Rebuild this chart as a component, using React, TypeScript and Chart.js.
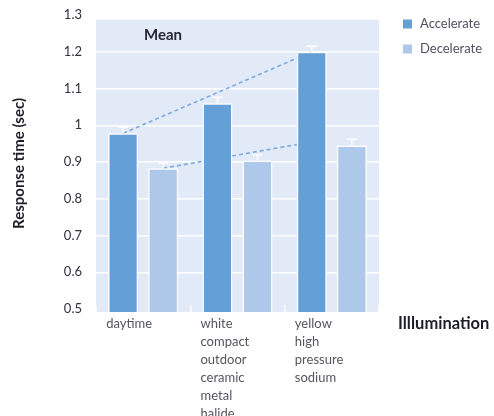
import React, { useEffect, useRef } from 'react';
import { Chart, registerables } from 'chart.js';

Chart.register(...registerables);

const categories: string[][] = [
  ['daytime'],
  ['white', 'compact', 'outdoor', 'ceramic', 'metal', 'halide'],
  ['yellow', 'high', 'pressure', 'sodium'],
];
const seriesNames = ['Accelerate', 'Decelerate'];
const accelerate = [0.978, 1.06, 1.2];
const decelerate = [0.883, 0.904, 0.945];
const accelerateErr = [0.017, 0.016, 0.015];
const decelerateErr = [0.014, 0.016, 0.017];
const yTicks = [0.5, 0.6, 0.7, 0.8, 0.9, 1.0, 1.1, 1.2, 1.3];
const yTickLabels = ['0.5', '0.6', '0.7', '0.8', '0.9', '1', '1.1', '1.2', '1.3'];
const trendAccelerate = [0.978, 1.2];
const trendDecelerate = [0.883, 0.955];
const yMin = 0.492;
const yMax = 1.3;
const plotTopValue = 1.287;

const ACC_COLOR = '#659fd7';
const DEC_COLOR = '#adc8e9';
const BG_COLOR = '#e1eaf6';

const plotBg = {
  id: 'plotBg',
  beforeDraw(chart: any) {
    const { ctx, chartArea } = chart;
    const y = chart.scales.y;
    const top = y.getPixelForValue(plotTopValue);
    ctx.save();
    ctx.fillStyle = BG_COLOR;
    ctx.fillRect(chartArea.left, top, chartArea.right - chartArea.left, chartArea.bottom - top);
    ctx.restore();
  },
};

const trendLines = {
  id: 'trendLines',
  beforeDatasetsDraw(chart: any) {
    const { ctx } = chart;
    const y = chart.scales.y;
    const m0 = chart.getDatasetMeta(0);
    const m1 = chart.getDatasetMeta(1);
    ctx.save();
    ctx.strokeStyle = '#7eaadb';
    ctx.lineWidth = 1.6;
    ctx.setLineDash([4, 3]);
    ctx.beginPath();
    ctx.moveTo(m0.data[0].x, y.getPixelForValue(trendAccelerate[0]));
    ctx.lineTo(m0.data[2].x, y.getPixelForValue(trendAccelerate[1]));
    ctx.moveTo(m1.data[0].x, y.getPixelForValue(trendDecelerate[0]));
    ctx.lineTo(m0.data[2].x, y.getPixelForValue(trendDecelerate[1]));
    ctx.stroke();
    ctx.restore();
  },
};

const errorBars = {
  id: 'errorBars',
  afterDatasetsDraw(chart: any) {
    const { ctx } = chart;
    const y = chart.scales.y;
    const errs = [accelerateErr, decelerateErr];
    ctx.save();
    ctx.strokeStyle = '#ffffff';
    ctx.lineWidth = 1.5;
    chart.data.datasets.forEach((ds: any, di: number) => {
      const meta = chart.getDatasetMeta(di);
      meta.data.forEach((bar: any, i: number) => {
        const top = y.getPixelForValue(ds.data[i] + errs[di][i]);
        ctx.beginPath();
        ctx.moveTo(bar.x, bar.y);
        ctx.lineTo(bar.x, top);
        ctx.moveTo(bar.x - 5, top);
        ctx.lineTo(bar.x + 5, top);
        ctx.stroke();
      });
    });
    ctx.restore();
  },
};

const annotations = {
  id: 'annotations',
  afterDraw(chart: any) {
    const { ctx, chartArea } = chart;
    ctx.save();
    // Mean label
    ctx.fillStyle = '#262636';
    ctx.font = 'bold 15px Lato';
    ctx.textAlign = 'center';
    ctx.textBaseline = 'middle';
    ctx.fillText('Mean', chartArea.left + 67, chartArea.top + 20);
    // Legend
    const colors = [ACC_COLOR, DEC_COLOR];
    ctx.font = '13px Lato';
    ctx.textAlign = 'left';
    seriesNames.forEach((name, i) => {
      const cy = chartArea.top + 9 + i * 25;
      ctx.fillStyle = colors[i];
      ctx.fillRect(chartArea.right + 24, cy - 4.5, 9, 9);
      ctx.fillStyle = '#505060';
      ctx.fillText(name, chartArea.right + 41, cy);
    });
    // Axis title
    ctx.fillStyle = '#1e1e2a';
    ctx.font = 'bold 16.5px Lato';
    ctx.fillText('Illlumination', chartArea.right + 19, chartArea.bottom + 12);
    ctx.restore();
  },
};

export default function App() {
  const ref = useRef<HTMLCanvasElement | null>(null);
  useEffect(() => {
    document.body.style.margin = '0';
    if (!ref.current) return;
    const chart = new Chart(ref.current, {
      type: 'bar',
      data: {
        labels: categories as any,
        datasets: [
          {
            label: seriesNames[0],
            data: accelerate,
            backgroundColor: ACC_COLOR,
            borderColor: '#ffffff',
            borderWidth: 1.5,
            categoryPercentage: 0.85,
            barPercentage: 0.75,
          },
          {
            label: seriesNames[1],
            data: decelerate,
            backgroundColor: DEC_COLOR,
            borderColor: '#ffffff',
            borderWidth: 1.5,
            categoryPercentage: 0.85,
            barPercentage: 0.75,
          },
        ],
      },
      options: {
        animation: false,
        responsive: false,
        layout: { padding: { left: 8, right: 115, top: 15, bottom: 0 } },
        plugins: {
          legend: { display: false },
          tooltip: { enabled: false },
        },
        scales: {
          x: {
            grid: {
              display: true,
              drawOnChartArea: false,
              drawTicks: true,
              tickLength: -7,
              color: '#ffffff',
              lineWidth: 1.5,
              offset: true,
            },
            border: { display: false },
            ticks: {
              align: 'start',
              labelOffset: -37,
              padding: 10,
              autoSkip: false,
              maxRotation: 0,
              color: '#555560',
              font: { family: 'Lato', size: 13, lineHeight: 1.385 },
            },
            afterFit: (s: any) => {
              s.height = 104;
            },
          },
          y: {
            min: yMin,
            max: yMax,
            afterBuildTicks: (s: any) => {
              s.ticks = yTicks.map((v) => ({ value: v }));
            },
            ticks: {
              callback: (_v: any, i: number) => yTickLabels[i],
              padding: 14,
              color: '#303040',
              font: { family: 'Lato', size: 13 },
            },
            grid: {
              color: (c: any) => (c.index === 0 ? 'rgba(0,0,0,0)' : '#ffffff'),
              lineWidth: 1.5,
              drawTicks: false,
            },
            border: { display: false },
            title: {
              display: true,
              text: 'Response time (sec)',
              color: '#1e1e2a',
              font: { family: 'Lato', size: 15, weight: 'bold' },
              padding: { top: 2, bottom: 0 },
            },
            afterFit: (s: any) => {
              s.width = 88;
              s.paddingTop = 0;
              s.paddingBottom = 0;
            },
          },
        },
      } as any,
      plugins: [plotBg, trendLines, errorBars, annotations],
    });
    return () => chart.destroy();
  }, []);
  return (
    <div style={{ position: 'absolute', left: 0, top: 0, width: 494, height: 416 }}>
      <canvas ref={ref} width={494} height={416} />
    </div>
  );
}
